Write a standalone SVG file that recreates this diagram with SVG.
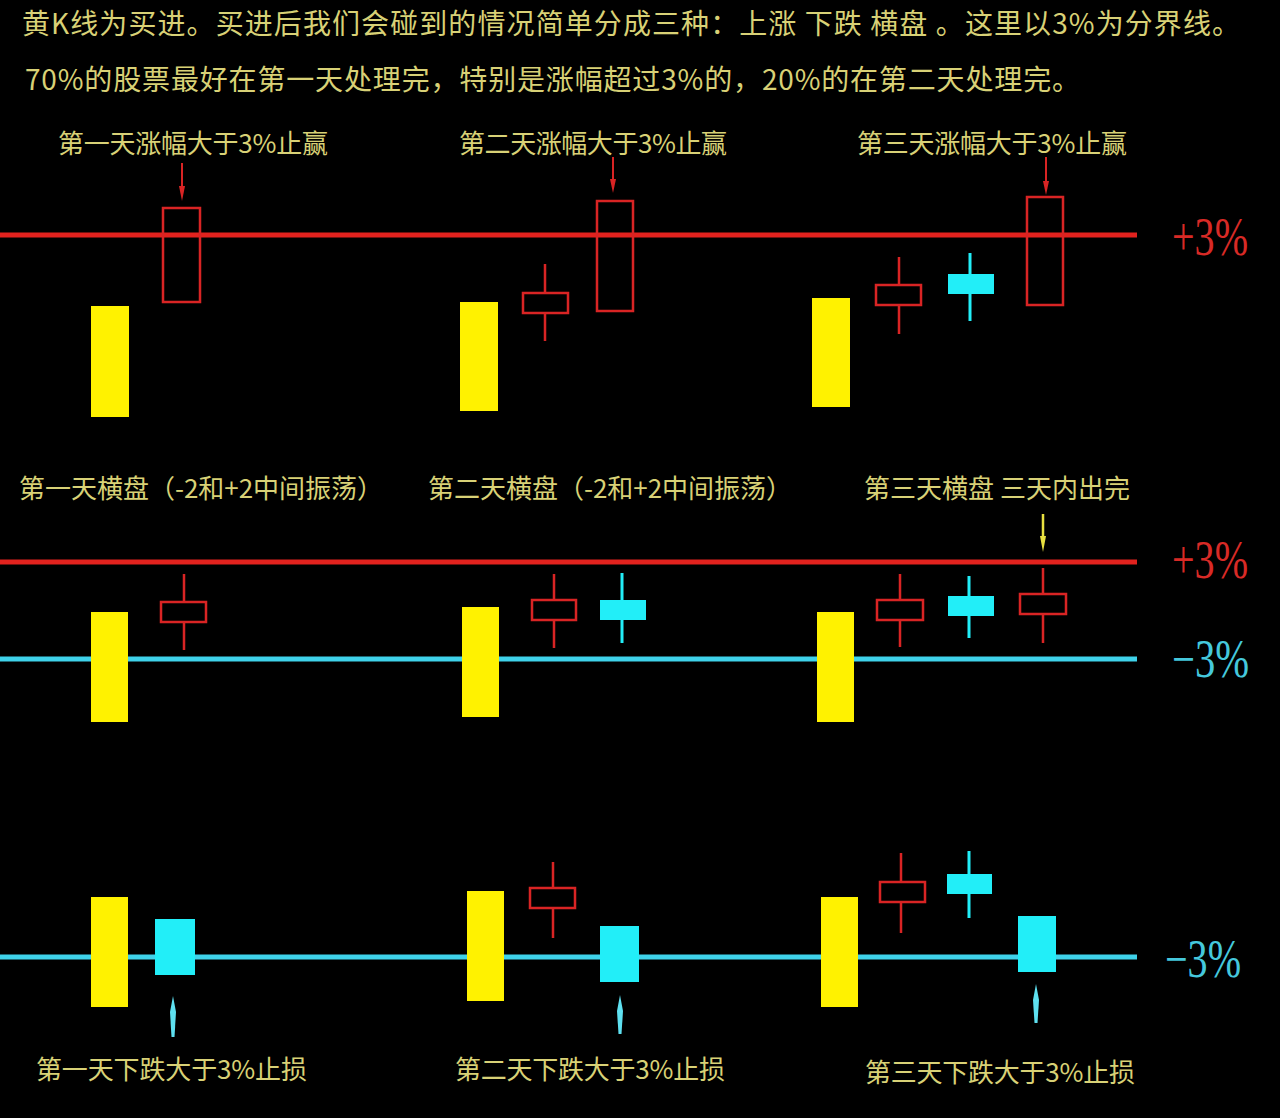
<svg xmlns="http://www.w3.org/2000/svg" width="1280" height="1118" viewBox="0 0 1280 1118">
<style>
.hdr{font-family:"Noto Sans CJK SC","Noto Sans",sans-serif;font-size:28px;fill:#d8d176;}
.lbl{font-family:"Noto Sans CJK SC","Noto Sans",sans-serif;font-size:26px;fill:#d8d176;}
.pct{font-family:"Liberation Serif",serif;font-size:54px;}
.pr{fill:#d82a26;}
.pc{fill:#45c8dc;}
.lr{stroke:#e2221e;stroke-width:5;fill:none;}
.lc{stroke:#3fd2ea;stroke-width:5;fill:none;}
.yel{fill:#fff200;}
.rb{fill:none;stroke:#d92424;stroke-width:2.5;}
.rbf{fill:#000000;stroke:#d92424;stroke-width:2.5;}
.rw{stroke:#d92424;stroke-width:2.5;}
.cb{fill:#22eef8;}
.cw{stroke:#22eef8;stroke-width:3;}
.ar{stroke:#d92424;stroke-width:2;}
.arh{fill:#d92424;}
.ay{stroke:#e8e040;stroke-width:2.5;}
.ayh{fill:#e8e040;}
.ac{fill:#5ee0f0;}
</style>
<rect x="0" y="0" width="1280" height="1118" fill="#000000"/>

<g id="header">
<text class="hdr" x="22" y="34" textLength="1218" lengthAdjust="spacing">黄K线为买进。买进后我们会碰到的情况简单分成三种：上涨 下跌 横盘 。这里以3%为分界线。</text>
<text class="hdr" x="25" y="90" textLength="1055" lengthAdjust="spacing">70%的股票最好在第一天处理完，特别是涨幅超过3%的，20%的在第二天处理完。</text>
</g>

<!-- reference lines -->
<g id="lines">
<line class="lr" x1="0" y1="235" x2="1137" y2="235"/>
<line class="lr" x1="0" y1="562" x2="1137" y2="562"/>
<line class="lc" x1="0" y1="659" x2="1137" y2="659"/>
<line class="lc" x1="0" y1="957" x2="1137" y2="957"/>
<text class="pct pr" x="1172" y="255" textLength="76" lengthAdjust="spacingAndGlyphs">+3%</text>
<text class="pct pr" x="1172" y="578" textLength="76" lengthAdjust="spacingAndGlyphs">+3%</text>
<text class="pct pc" x="1172" y="677" textLength="77" lengthAdjust="spacingAndGlyphs">−3%</text>
<text class="pct pc" x="1165" y="977" textLength="76" lengthAdjust="spacingAndGlyphs">−3%</text>
</g>

<!-- Panel 1: rise -->
<g id="p1-labels">
<text class="lbl" x="58" y="153" textLength="270" lengthAdjust="spacing">第一天涨幅大于3%止赢</text>
<text class="lbl" x="459" y="153" textLength="268" lengthAdjust="spacing">第二天涨幅大于3%止赢</text>
<text class="lbl" x="857" y="153" textLength="270" lengthAdjust="spacing">第三天涨幅大于3%止赢</text>
</g>
<g id="p1-a-buy"><rect class="yel" x="91" y="306" width="38" height="111"/></g>
<g id="p1-a-day1"><rect class="rb" x="163" y="208" width="37" height="94"/></g>
<g id="p1-b-buy"><rect class="yel" x="460" y="302" width="38" height="109"/></g>
<g id="p1-b-day1"><line class="rw" x1="545" y1="264" x2="545" y2="341"/><rect class="rbf" x="523" y="293" width="45" height="20"/></g>
<g id="p1-b-day2"><rect class="rb" x="597" y="201" width="36" height="110"/></g>
<g id="p1-c-buy"><rect class="yel" x="812" y="298" width="38" height="109"/></g>
<g id="p1-c-day1"><line class="rw" x1="899" y1="257" x2="899" y2="334"/><rect class="rbf" x="876" y="285" width="45" height="20"/></g>
<g id="p1-c-day2"><line class="cw" x1="970" y1="253" x2="970" y2="321"/><rect class="cb" x="948" y="274" width="46" height="20"/></g>
<g id="p1-c-day3"><rect class="rb" x="1027" y="197" width="36" height="108"/></g>

<!-- Panel 2: sideways -->
<g id="p2-labels">
<text class="lbl" x="19" y="498" textLength="364" lengthAdjust="spacing">第一天横盘（-2和+2中间振荡）</text>
<text class="lbl" x="428" y="498" textLength="364" lengthAdjust="spacing">第二天横盘（-2和+2中间振荡）</text>
<text class="lbl" x="864" y="498" textLength="266" lengthAdjust="spacing">第三天横盘 三天内出完</text>
</g>
<g id="p2-a-buy"><rect class="yel" x="91" y="612" width="37" height="110"/></g>
<g id="p2-a-day1"><line class="rw" x1="184" y1="574" x2="184" y2="650"/><rect class="rbf" x="161" y="602" width="45" height="20"/></g>
<g id="p2-b-buy"><rect class="yel" x="462" y="607" width="37" height="110"/></g>
<g id="p2-b-day1"><line class="rw" x1="554" y1="574" x2="554" y2="648"/><rect class="rbf" x="532" y="600" width="44" height="20"/></g>
<g id="p2-b-day2"><line class="cw" x1="622" y1="573" x2="622" y2="643"/><rect class="cb" x="600" y="600" width="46" height="20"/></g>
<g id="p2-c-buy"><rect class="yel" x="817" y="612" width="37" height="110"/></g>
<g id="p2-c-day1"><line class="rw" x1="900" y1="574" x2="900" y2="647"/><rect class="rbf" x="877" y="600" width="46" height="20"/></g>
<g id="p2-c-day2"><line class="cw" x1="969" y1="576" x2="969" y2="638"/><rect class="cb" x="948" y="596" width="46" height="20"/></g>
<g id="p2-c-day3"><line class="rw" x1="1043" y1="568" x2="1043" y2="643"/><rect class="rbf" x="1020" y="594" width="46" height="20"/></g>

<!-- Panel 3: fall -->
<g id="p3-labels">
<text class="lbl" x="36" y="1079" textLength="271" lengthAdjust="spacing">第一天下跌大于3%止损</text>
<text class="lbl" x="455" y="1079" textLength="270" lengthAdjust="spacing">第二天下跌大于3%止损</text>
<text class="lbl" x="865" y="1082" textLength="270" lengthAdjust="spacing">第三天下跌大于3%止损</text>
</g>
<g id="p3-a-buy"><rect class="yel" x="91" y="897" width="37" height="110"/></g>
<g id="p3-a-day1"><rect class="cb" x="155" y="919" width="40" height="56"/></g>
<g id="p3-b-buy"><rect class="yel" x="467" y="891" width="37" height="110"/></g>
<g id="p3-b-day1"><line class="rw" x1="553" y1="862" x2="553" y2="938"/><rect class="rbf" x="530" y="888" width="45" height="20"/></g>
<g id="p3-b-day2"><rect class="cb" x="600" y="926" width="39" height="56"/></g>
<g id="p3-c-buy"><rect class="yel" x="821" y="897" width="37" height="110"/></g>
<g id="p3-c-day1"><line class="rw" x1="901" y1="853" x2="901" y2="933"/><rect class="rbf" x="880" y="882" width="45" height="20"/></g>
<g id="p3-c-day2"><line class="cw" x1="969" y1="851" x2="969" y2="918"/><rect class="cb" x="947" y="874" width="45" height="20"/></g>
<g id="p3-c-day3"><rect class="cb" x="1018" y="916" width="38" height="56"/></g>

<!-- connectors (pointer arrows) -->
<g id="connectors">
<line class="ar" x1="182" y1="163" x2="182" y2="190"/>
<polygon class="arh" points="179,186 185,186 182,201"/>
<line class="ar" x1="613" y1="157" x2="613" y2="182"/>
<polygon class="arh" points="610,179 616,179 613,193"/>
<line class="ar" x1="1046" y1="157" x2="1046" y2="184"/>
<polygon class="arh" points="1043,181 1049,181 1046,195"/>
<line class="ay" x1="1043" y1="514" x2="1043" y2="540"/>
<polygon class="ayh" points="1040,536 1046,536 1043,552"/>
<polygon class="ac" points="173,996 176,1012 174.5,1037 171.5,1037 170,1012"/>
<polygon class="ac" points="620,995 623,1011 621.5,1034 618.5,1034 617,1011"/>
<polygon class="ac" points="1036,984 1039,1000 1037.5,1023 1034.5,1023 1033,1000"/>
</g>
</svg>
